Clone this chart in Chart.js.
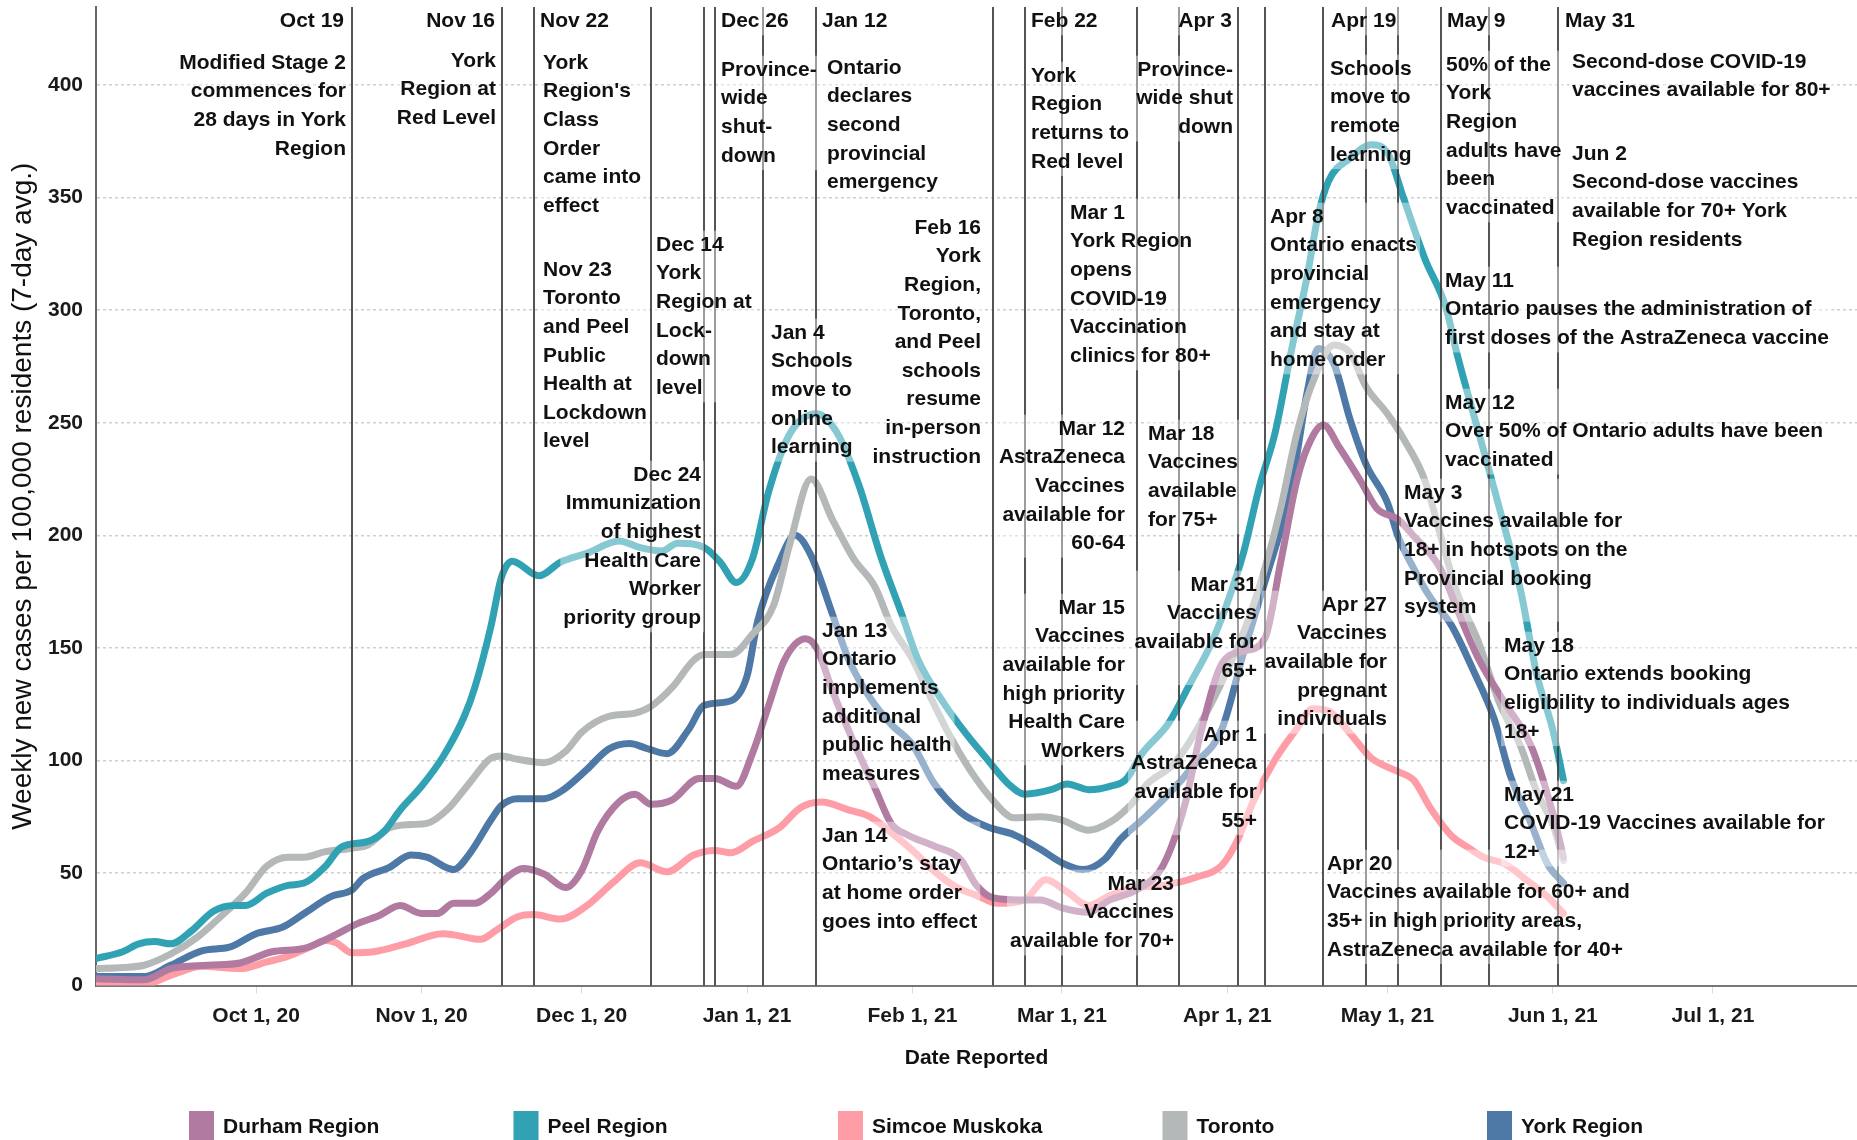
<!DOCTYPE html>
<html lang="en">
<head>
<meta charset="UTF-8">
<title>Weekly new cases per 100,000 residents</title>
<script src="https://cdn.jsdelivr.net/npm/chart.js"></script>
<style>
  html, body { margin: 0; padding: 0; background: #fff; }
  #wrap { width: 1857px; height: 1140px; }
</style>
</head>
<body>
<div id="wrap"><canvas id="casesChart" width="1857" height="1140"></canvas></div>
<script>
// x values are days counted from Sep 1, 2020
const monthTickDays = [30, 61, 91, 122, 153, 181, 212, 242, 273, 303];
const monthTickLabels = ['Oct 1, 20', 'Nov 1, 20', 'Dec 1, 20', 'Jan 1, 21', 'Feb 1, 21',
                         'Mar 1, 21', 'Apr 1, 21', 'May 1, 21', 'Jun 1, 21', 'Jul 1, 21'];
const yTickValues = [0, 50, 100, 150, 200, 250, 300, 350, 400];

const seriesNames = ['Durham Region', 'Peel Region', 'Simcoe Muskoka', 'Toronto', 'York Region'];
const seriesColors = ['#b07aa1', '#30a2b4', '#ff9da7', '#b5b8b8', '#4e79a7'];

const durhamDays = [0,9,14,21,27,33,39,44,49,53,57,61,64,67,71,74,77,80,84,88,91,94,98,101,104,108,113,116,120,123,
  126,129,133,135,138,142,146,149,152,157,162,165,168,173,177,181,186,190,195,200,204,207,211,215,219,222,225,227,230,233,
  237,240,244,247,252,255,259,264,269,273,275];
const durhamVals = [3,2.5,7.5,9,10,15,16.5,21.5,27.5,31,35.5,32,32,36.5,36.5,41,48,52,49.5,43.5,51,68.5,81.5,85,80.5,82.5,92,92,88.5,103,
  124,144.5,154,150,131,108,87.5,72,67,62,56,44.5,39,38,38,34.5,32.5,38,42.5,53.5,80,112,143,148.5,154,188,224,239,249,239,
  224,212,207,199.5,185,167.5,145.5,125.5,106,76.5,57];

const peelDays = [0,5,8,11,14,18,22,26,28,32,36,39,43,46,51,54,57,61,65,69,71,74,76,78,83,87,92,98,102,106,
  109,114,117,120,123,126,130,135,139,143,147,151,154,159,163,167,171,174,179,182,186,190,193,196,201,205,209,212,215,218,
  221,224,227,229,231,235,239,242,245,249,253,255,259,263,267,270,273,275];
const peelVals = [12,15,18.5,19.5,18.5,24.5,33,35.5,35.5,41,44.5,45.5,53,61.5,64,68.5,78,88.5,101.5,119.5,132.5,159.5,181.5,188.5,182,188,192,197.5,194.5,193,
  196.5,194.5,188,179,189.5,219,245,254,245,222,191,165,145,125,112,100.5,89.5,85,87,89.5,87,88.5,91.5,103,116.5,134,152,170,192,221.5,
  246,282,315.5,342,357.5,367.5,373.5,370,350,323,301,281,246.5,212,175,138,113.5,91];

const simcoeDays = [0,9,14,20,27,32,36,40,43,45,48,52,58,65,67,72,75,79,82,87,92,97,102,107,112,116,119,123,128,132,
  136,141,145,149,153,157,161,165,169,174,178,182,186,190,195,200,206,211,214,217,221,225,228,231,235,239,244,247,250,254,
  257,260,264,268,272,275];
const simcoeVals = [1,0.5,4.5,8.5,7.5,10.5,13,17,20,19,14.5,15,18.5,23,22.5,20.5,24.5,30.5,31.5,29.5,35.5,46,54.5,50.5,58,60,59,64,70,79,
  81.5,78,75,68,60,51,44,40,36.5,38,47,41.5,35.5,40,43.5,44.5,48,53.5,65,82.5,100.5,114,123,122,112,101,95,91,79,66.5,
  61.5,57,54,47,39.5,32];

const torontoDays = [0,5,9,14,19,24,28,32,36,39,43,48,51,55,59,62,66,70,74,76,79,84,88,91,96,101,104,108,112,114,
  119,123,127,130,134,138,142,146,149,153,156,160,164,168,172,177,181,186,190,194,197,202,207,212,216,219,222,225,228,232,
  235,238,242,245,249,252,255,259,263,267,270,273,275];
const torontoVals = [7.5,8,9,14,21.5,32,41,53,57,57,59.5,61,62.5,70,71.5,72,78.5,90,101,102,100.5,99,104,112.5,119.5,121,124,132.5,144.5,147,
  147,156,169,196,225,207,189.5,177,160,145,130,111,95,82.5,74.5,75,73.5,69,72.5,80.5,89.5,98.5,116.5,140,163,185,212,245,268,284.5,
  281,266,254,243,224.5,199.5,175,153,125.5,106,86,71.5,55.5];

const yorkDays = [0,9,14,20,25,30,35,39,44,48,50,55,59,62,67,70,74,76,79,84,87,92,96,100,103,107,111,114,119,122,
  124,128,131,134,138,141,145,149,153,157,162,167,172,177,181,185,189,192,196,201,206,211,215,219,224,227,229,232,235,238,
  242,244,247,250,254,258,262,265,269,272,275];
const yorkVals = [4,4,9,15.5,17,23,26,32,39.5,42.5,47.5,52.5,58,57,51.5,58.5,73.5,80,83,83,86,96,105,107.5,105.5,103,113.5,124.5,126.5,137.5,
  162,188,200,191,165,145,128,116,107,90,77,70.5,67,60.5,54.5,51.5,56,65,73.5,85,98.5,114,147.5,179,221.5,264,283,276,251.5,231.5,
  214.5,199.5,185,172.5,160,140.5,118.5,93.5,71.5,54,45.5];

// reference lines for announcements
const eventLineDays = [48, 76, 82, 104, 114, 116, 125, 135, 168, 174, 181, 195, 203, 214, 219, 230, 238, 244, 252, 261, 274];

// announcement text blocks: x/y in pixels (y = centre of first line)
const notes = [
  { x: 344, y: 21, a: 'right', t: ['Oct 19'] },
  { x: 346, y: 63, a: 'right', t: ['Modified Stage 2', 'commences for', '28 days in York', 'Region'] },
  { x: 495, y: 21, a: 'right', t: ['Nov 16'] },
  { x: 496, y: 61, a: 'right', t: ['York', 'Region at', 'Red Level'] },
  { x: 540, y: 21, a: 'left', t: ['Nov 22'] },
  { x: 543, y: 63, a: 'left', t: ['York', "Region's", 'Class', 'Order', 'came into', 'effect'] },
  { x: 543, y: 270, a: 'left', t: ['Nov 23', 'Toronto', 'and Peel', 'Public', 'Health at', 'Lockdown', 'level'] },
  { x: 656, y: 245, a: 'left', t: ['Dec 14', 'York', 'Region at', 'Lock-', 'down', 'level'] },
  { x: 701, y: 475, a: 'right', t: ['Dec 24', 'Immunization', 'of highest', 'Health Care', 'Worker', 'priority group'] },
  { x: 721, y: 21, a: 'left', t: ['Dec 26'] },
  { x: 721, y: 70, a: 'left', t: ['Province-', 'wide', 'shut-', 'down'] },
  { x: 771, y: 333, a: 'left', t: ['Jan 4', 'Schools', 'move to', 'online', 'learning'] },
  { x: 822, y: 21, a: 'left', t: ['Jan 12'] },
  { x: 827, y: 68, a: 'left', t: ['Ontario', 'declares', 'second', 'provincial', 'emergency'] },
  { x: 822, y: 631, a: 'left', t: ['Jan 13', 'Ontario', 'implements', 'additional', 'public health', 'measures'] },
  { x: 822, y: 836, a: 'left', t: ['Jan 14', 'Ontario\u2019s stay', 'at home order', 'goes into effect'] },
  { x: 981, y: 228, a: 'right', t: ['Feb 16', 'York', 'Region,', 'Toronto,', 'and Peel', 'schools', 'resume', 'in-person', 'instruction'] },
  { x: 1031, y: 21, a: 'left', t: ['Feb 22'] },
  { x: 1031, y: 76, a: 'left', t: ['York', 'Region', 'returns to', 'Red level'] },
  { x: 1070, y: 213, a: 'left', t: ['Mar 1', 'York Region', 'opens', 'COVID-19', 'Vaccination', 'clinics for 80+'] },
  { x: 1125, y: 429, a: 'right', t: ['Mar 12', 'AstraZeneca', 'Vaccines', 'available for', '60-64'] },
  { x: 1148, y: 434, a: 'left', t: ['Mar 18', 'Vaccines', 'available', 'for 75+'] },
  { x: 1125, y: 608, a: 'right', t: ['Mar 15', 'Vaccines', 'available for', 'high priority', 'Health Care', 'Workers'] },
  { x: 1174, y: 884, a: 'right', t: ['Mar 23', 'Vaccines', 'available for 70+'] },
  { x: 1257, y: 585, a: 'right', t: ['Mar 31', 'Vaccines', 'available for', '65+'] },
  { x: 1257, y: 735, a: 'right', t: ['Apr 1', 'AstraZeneca', 'available for', '55+'] },
  { x: 1232, y: 21, a: 'right', t: ['Apr 3'] },
  { x: 1233, y: 70, a: 'right', t: ['Province-', 'wide shut', 'down'] },
  { x: 1270, y: 217, a: 'left', t: ['Apr 8', 'Ontario enacts', 'provincial', 'emergency', 'and stay at', 'home order'] },
  { x: 1331, y: 21, a: 'left', t: ['Apr 19'] },
  { x: 1330, y: 69, a: 'left', t: ['Schools', 'move to', 'remote', 'learning'] },
  { x: 1327, y: 864, a: 'left', t: ['Apr 20', 'Vaccines available for 60+ and', '35+ in high priority areas,', 'AstraZeneca available for 40+'] },
  { x: 1387, y: 605, a: 'right', t: ['Apr 27', 'Vaccines', 'available for', 'pregnant', 'individuals'] },
  { x: 1404, y: 493, a: 'left', t: ['May 3', 'Vaccines available for', '18+ in hotspots on the', 'Provincial booking', 'system'] },
  { x: 1447, y: 21, a: 'left', t: ['May 9'] },
  { x: 1446, y: 65, a: 'left', t: ['50% of the', 'York', 'Region', 'adults have', 'been', 'vaccinated'] },
  { x: 1445, y: 281, a: 'left', t: ['May 11', 'Ontario pauses the administration of', 'first doses of the AstraZeneca vaccine'] },
  { x: 1445, y: 403, a: 'left', t: ['May 12', 'Over 50% of Ontario adults have been', 'vaccinated'] },
  { x: 1504, y: 646, a: 'left', t: ['May 18', 'Ontario extends booking', 'eligibility to individuals ages', '18+'] },
  { x: 1504, y: 795, a: 'left', t: ['May 21', 'COVID-19 Vaccines available for', '12+'] },
  { x: 1565, y: 21, a: 'left', t: ['May 31'] },
  { x: 1572, y: 62, a: 'left', t: ['Second-dose COVID-19', 'vaccines available for 80+'] },
  { x: 1572, y: 154, a: 'left', t: ['Jun 2', 'Second-dose vaccines', 'available for 70+ York', 'Region residents'] }
];

const FONT = '"Liberation Sans", Arial, sans-serif';
const LINE_H = 28.6;

function toPoints(days, vals) {
  return days.map((d, i) => ({ x: d, y: vals[i] }));
}

const seriesData = [
  toPoints(durhamDays, durhamVals),
  toPoints(peelDays, peelVals),
  toPoints(simcoeDays, simcoeVals),
  toPoints(torontoDays, torontoVals),
  toPoints(yorkDays, yorkVals)
];

const overlay = {
  id: 'overlay',
  afterDatasetsDraw(chart) {
    const { ctx, chartArea, scales } = chart;
    ctx.save();

    // vertical announcement lines
    ctx.strokeStyle = 'rgba(65,65,65,0.9)';
    ctx.lineWidth = 2;
    eventLineDays.forEach(d => {
      const px = Math.round(scales.x.getPixelForValue(d));
      ctx.beginPath();
      ctx.moveTo(px, chartArea.top);
      ctx.lineTo(px, chartArea.bottom);
      ctx.stroke();
    });

    // translucent boxes behind the notes, then the text
    ctx.font = 'bold 21px ' + FONT;
    ctx.textBaseline = 'middle';
    ctx.fillStyle = 'rgba(255,255,255,0.42)';
    notes.forEach(n => {
      const w = Math.max(...n.t.map(s => ctx.measureText(s).width));
      const left = n.a === 'left' ? n.x - 3 : n.x - w - 3;
      ctx.fillRect(left, n.y - LINE_H / 2, w + 6, LINE_H * n.t.length);
    });
    ctx.fillStyle = '#111';
    notes.forEach(n => {
      ctx.textAlign = n.a;
      n.t.forEach((s, i) => ctx.fillText(s, n.x, n.y + i * LINE_H));
    });

    // legend along the bottom
    ctx.textAlign = 'left';
    seriesNames.forEach((name, i) => {
      const lx = 189 + i * 324.5;
      ctx.fillStyle = seriesColors[i];
      ctx.fillRect(lx, 1111, 25, 29);
      ctx.fillStyle = '#111';
      ctx.fillText(name, lx + 34, 1127);
    });
    ctx.restore();
  }
};

new Chart(document.getElementById('casesChart'), {
  type: 'line',
  data: {
    datasets: seriesNames.map((name, i) => ({
      label: name,
      data: seriesData[i],
      borderColor: seriesColors[i],
      backgroundColor: seriesColors[i],
      borderWidth: 7,
      pointRadius: 0,
      cubicInterpolationMode: 'monotone',
      borderCapStyle: 'round',
      borderJoinStyle: 'round',
      fill: false
    }))
  },
  options: {
    responsive: false,
    animation: false,
    layout: { padding: { top: 7, right: 0, bottom: 0, left: 0 } },
    plugins: { legend: { display: false }, tooltip: { enabled: false } },
    scales: {
      x: {
        type: 'linear',
        min: 0,
        max: 330,
        afterBuildTicks: s => { s.ticks = monthTickDays.map(v => ({ value: v })); },
        afterFit: s => {
          s.height = 154.5;
          s.paddingLeft = 0;
          s.paddingRight = 0;
        },
        ticks: {
          autoSkip: false,
          maxRotation: 0,
          padding: 10,
          color: '#1a1a1a',
          font: { family: FONT, size: 21, weight: 'bold' },
          callback: v => monthTickLabels[monthTickDays.indexOf(v)]
        },
        grid: { drawOnChartArea: false, drawTicks: true, tickLength: 8, color: '#dcdcdc' },
        border: { display: true, color: '#777', width: 2 },
        title: {
          display: true,
          text: 'Date Reported',
          color: '#111',
          font: { family: FONT, size: 21, weight: 'bold' },
          padding: { top: 0, bottom: 69 }
        }
      },
      y: {
        min: 0,
        max: 434.7,
        afterBuildTicks: s => { s.ticks = yTickValues.map(v => ({ value: v })); },
        afterFit: s => {
          s.width = 96;
          s.paddingTop = 0;
          s.paddingBottom = 0;
        },
        ticks: {
          padding: 13,
          color: '#1a1a1a',
          font: { family: FONT, size: 21, weight: 'bold' }
        },
        grid: { color: '#cfcfcf', lineWidth: 1.5, drawTicks: false },
        border: { display: true, color: '#666', width: 2, dash: [3, 3] },
        title: {
          display: true,
          text: 'Weekly new cases per 100,000 residents (7-day avg.)',
          color: '#111',
          font: { family: FONT, size: 28 },
          padding: { top: 6, bottom: 0 }
        }
      }
    }
  },
  plugins: [overlay]
});
</script>
</body>
</html>
